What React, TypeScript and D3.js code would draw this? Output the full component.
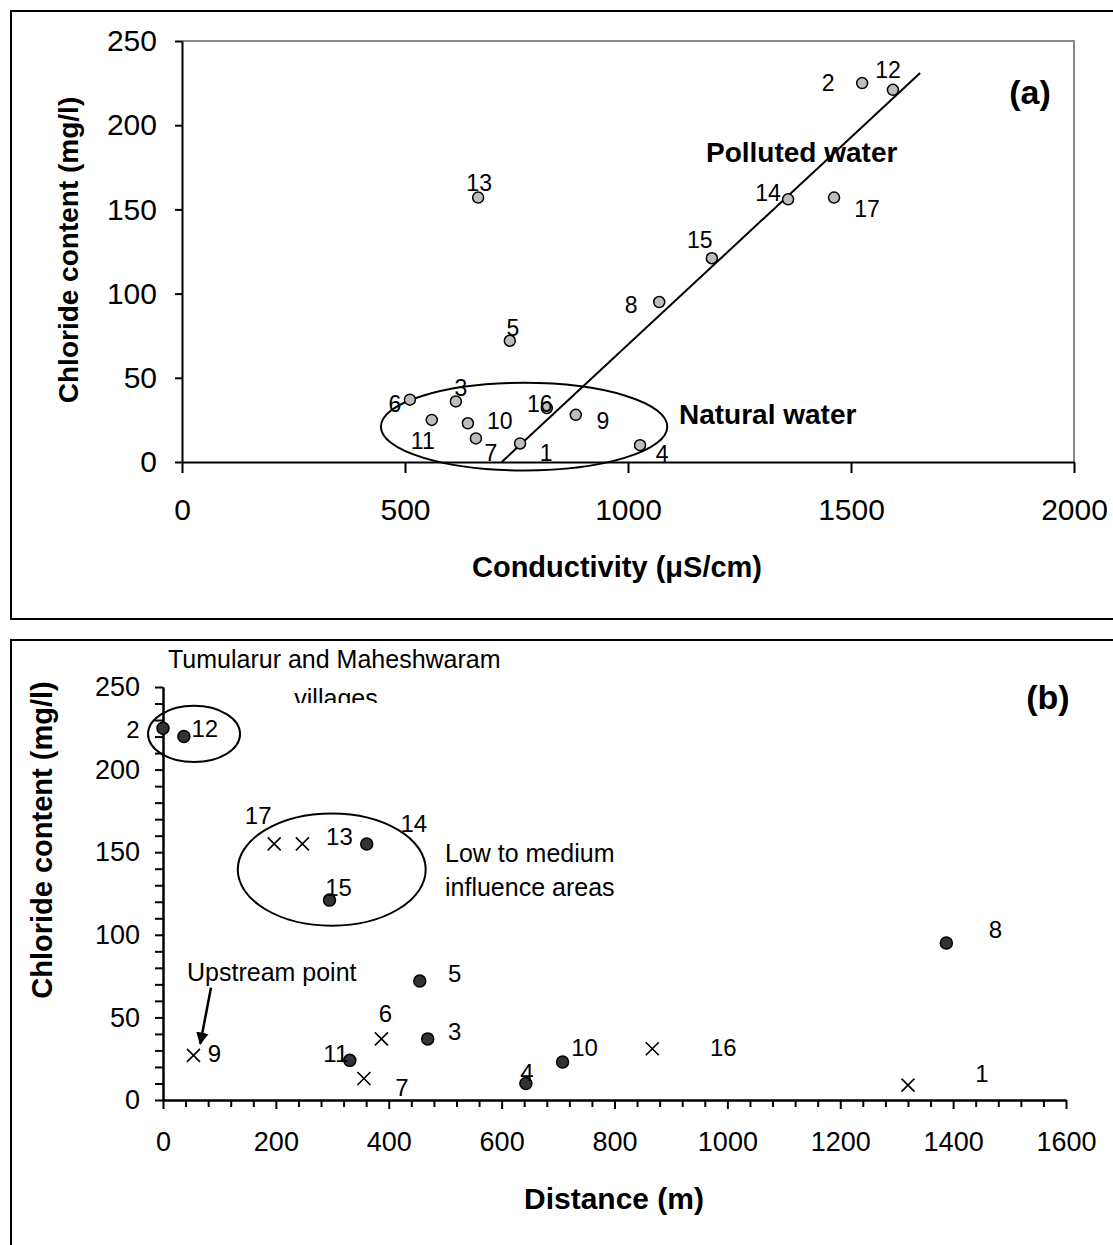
import { useEffect, useRef } from "react";
import * as d3 from "d3";

// sample numbers (same order in every array)
const sampleIds = ["1", "2", "3", "4", "5", "6", "7", "8", "9", "10", "11", "12", "13", "14", "15", "16", "17"];

// panel (a): conductivity vs chloride
const conductivity = [758, 1525, 614, 1027, 735, 511, 659, 1070, 883, 641, 560, 1594, 664, 1359, 1188, 818, 1462];
const chlorideA = [11, 225, 36, 10, 72, 37, 14, 95, 28, 23, 25, 221, 157, 156, 121, 32, 157];
const fitConductivity = [717, 1655];
const fitChloride = [0, 231];

// panel (b): distance vs chloride
const distance = [1320, 0, 469, 643, 455, 387, 356, 1388, 54, 708, 331, 37, 247, 361, 295, 867, 197];
const chlorideB = [9, 225, 37, 10, 72, 37, 13, 95, 27, 23, 24, 220, 155, 155, 121, 31, 155];
const markerB = ["x", "dot", "dot", "dot", "dot", "x", "x", "dot", "x", "dot", "dot", "dot", "x", "dot", "dot", "x", "x"];

const ticksAX = [0, 500, 1000, 1500, 2000];
const ticksAY = [0, 50, 100, 150, 200, 250];
const ticksBX = [0, 200, 400, 600, 800, 1000, 1200, 1400, 1600];
const ticksBY = [0, 50, 100, 150, 200, 250];

// label offsets in px (layout only)
const offA: [number, number][] = [
  [26, 10], [-34, 0], [5, -13], [22, 9], [3, -13], [-15, 4], [15, 15], [-28, 3], [27, 6],
  [32, -2], [-9, 21], [-5, -20], [1, -15], [-20, -6], [-12, -18], [-7, -4], [33, 11],
];
const offB: [number, number][] = [
  [74, -12], [-30, 1], [27, -7], [1, -11], [35, -8], [4, -25], [38, 9], [49, -14], [21, -2],
  [22, -15], [-14, -7], [21, -8], [37, -7], [47, -20], [9, -13], [71, -1], [-16, -28],
];

const FONT = "'Liberation Sans', Arial, Helvetica, sans-serif";

export default function App() {
  const svgRef = useRef<SVGSVGElement | null>(null);

  useEffect(() => {
    if (!svgRef.current) return;
    const svg = d3.select(svgRef.current);
    svg.selectAll("*").remove();
    svg.attr("font-family", FONT);
    const fmt = d3.format("d");

    // ---------- panel (a) ----------
    svg.append("rect").attr("x", 11).attr("y", 11).attr("width", 1130).attr("height", 608)
      .attr("fill", "none").attr("stroke", "#000").attr("stroke-width", 2);

    const xA = d3.scaleLinear().domain([0, 2000]).range([182, 1074]);
    const yA = d3.scaleLinear().domain([0, 250]).range([462, 41]);

    svg.append("path")
      .attr("d", `M${xA(0)},${yA(250)}H${xA(2000)}V${yA(0)}`)
      .attr("fill", "none").attr("stroke", "#888").attr("stroke-width", 2);

    const axAY = svg.append("g").attr("transform", `translate(${xA(0)},0)`)
      .call(d3.axisLeft(yA).tickValues(ticksAY).tickSize(7).tickSizeOuter(0).tickPadding(18).tickFormat((d) => fmt(d as number)));
    const axAX = svg.append("g").attr("transform", `translate(0,${yA(0)})`)
      .call(d3.axisBottom(xA).tickValues(ticksAX).tickSize(11).tickSizeOuter(0).tickPadding(26).tickFormat((d) => fmt(d as number)));
    [axAY, axAX].forEach((g) => {
      g.attr("font-family", FONT).attr("font-size", 30);
      g.selectAll("path, line").attr("stroke", "#000").attr("stroke-width", 2);
      g.selectAll("text").attr("fill", "#000");
    });

    svg.append("text").attr("transform", "translate(68,250) rotate(-90)")
      .attr("text-anchor", "middle").attr("dominant-baseline", "central")
      .attr("font-size", 28).attr("font-weight", "bold").text("Chloride content (mg/l)");
    svg.append("text").attr("x", 617).attr("y", 567)
      .attr("text-anchor", "middle").attr("dominant-baseline", "central")
      .attr("font-size", 29).attr("font-weight", "bold").text("Conductivity (\u03bcS/cm)");

    // natural water ellipse
    svg.append("ellipse")
      .attr("cx", xA(767)).attr("cy", yA(21))
      .attr("rx", xA(767 + 321) - xA(767)).attr("ry", yA(0) - yA(26))
      .attr("fill", "none").attr("stroke", "#000").attr("stroke-width", 2);

    // regression line
    svg.append("path")
      .datum(fitConductivity.map((c, i) => [c, fitChloride[i]] as [number, number]))
      .attr("d", d3.line<[number, number]>().x((d) => xA(d[0])).y((d) => yA(d[1])))
      .attr("stroke", "#000").attr("stroke-width", 2).attr("fill", "none");

    svg.selectAll("circle.a").data(sampleIds).enter().append("circle")
      .attr("class", "a")
      .attr("cx", (_, i) => xA(conductivity[i])).attr("cy", (_, i) => yA(chlorideA[i]))
      .attr("r", 5.5).attr("fill", "#bdbdbd").attr("stroke", "#000").attr("stroke-width", 1.5);

    svg.selectAll("text.la").data(sampleIds).enter().append("text")
      .attr("class", "la")
      .attr("x", (_, i) => xA(conductivity[i]) + offA[i][0])
      .attr("y", (_, i) => yA(chlorideA[i]) + offA[i][1])
      .attr("text-anchor", "middle").attr("dominant-baseline", "central")
      .attr("font-size", 23).text((d) => d);

    svg.append("text").attr("x", 706).attr("y", 162).attr("font-size", 28)
      .attr("font-weight", "bold").text("Polluted water");
    svg.append("text").attr("x", 679).attr("y", 424).attr("font-size", 28)
      .attr("font-weight", "bold").text("Natural water");
    svg.append("text").attr("x", 1030).attr("y", 92).attr("text-anchor", "middle")
      .attr("dominant-baseline", "central").attr("font-size", 34)
      .attr("font-weight", "bold").text("(a)");

    // ---------- panel (b) ----------
    svg.append("rect").attr("x", 11).attr("y", 640).attr("width", 1130).attr("height", 640)
      .attr("fill", "none").attr("stroke", "#000").attr("stroke-width", 2);

    const xB = d3.scaleLinear().domain([0, 1600]).range([163, 1066]);
    const yB = d3.scaleLinear().domain([0, 250]).range([1100, 687]);

    const minorX = d3.range(0, 1601, 40).filter((v) => v % 200 !== 0);
    const minorY = d3.range(0, 251, 10).filter((v) => v % 50 !== 0);

    const gMinX = svg.append("g").attr("transform", `translate(0,${yB(0)})`)
      .call(d3.axisBottom(xB).tickValues(minorX).tickSize(7).tickSizeOuter(0).tickFormat(() => ""));
    const gMinY = svg.append("g").attr("transform", `translate(${xB(0)},0)`)
      .call(d3.axisLeft(yB).tickValues(minorY).tickSize(8).tickSizeOuter(0).tickFormat(() => ""));
    const axBY = svg.append("g").attr("transform", `translate(${xB(0)},0)`)
      .call(d3.axisLeft(yB).tickValues(ticksBY).tickSize(8).tickSizeOuter(0).tickPadding(15).tickFormat((d) => fmt(d as number)));
    const axBX = svg.append("g").attr("transform", `translate(0,${yB(0)})`)
      .call(d3.axisBottom(xB).tickValues(ticksBX).tickSize(9).tickSizeOuter(0).tickPadding(23).tickFormat((d) => fmt(d as number)));
    [gMinX, gMinY, axBY, axBX].forEach((g) => {
      g.attr("font-family", FONT).attr("font-size", 27);
      g.selectAll("path, line").attr("stroke", "#000").attr("stroke-width", 2);
      g.selectAll("text").attr("fill", "#000");
    });

    svg.append("text").attr("transform", "translate(42,840) rotate(-90)")
      .attr("text-anchor", "middle").attr("dominant-baseline", "central")
      .attr("font-size", 29).attr("font-weight", "bold").text("Chloride content (mg/l)");
    svg.append("text").attr("x", 614).attr("y", 1198)
      .attr("text-anchor", "middle").attr("dominant-baseline", "central")
      .attr("font-size", 30).attr("font-weight", "bold").text("Distance (m)");

    // group ellipses
    svg.append("ellipse")
      .attr("cx", xB(55)).attr("cy", yB(221.6))
      .attr("rx", xB(55 + 81.5) - xB(55)).attr("ry", yB(0) - yB(17))
      .attr("fill", "none").attr("stroke", "#000").attr("stroke-width", 2);
    svg.append("ellipse")
      .attr("cx", xB(299)).attr("cy", yB(139.5))
      .attr("rx", xB(299 + 166.5) - xB(299)).attr("ry", yB(0) - yB(34))
      .attr("fill", "none").attr("stroke", "#000").attr("stroke-width", 2);

    // arrow to upstream point
    svg.append("defs").html(
      `<marker id="arr" viewBox="0 0 10 10" refX="9" refY="5" markerWidth="5" markerHeight="6" orient="auto-start-reverse"><path d="M0,0L10,5L0,10z" fill="#000"/></marker>
       <clipPath id="tbClip"><rect x="11" y="640" width="1100" height="63"/></clipPath>`
    );
    svg.append("line")
      .attr("x1", xB(85)).attr("y1", yB(68)).attr("x2", xB(66)).attr("y2", yB(34))
      .attr("stroke", "#000").attr("stroke-width", 2.5).attr("marker-end", "url(#arr)");

    const dots = sampleIds.map((id, i) => ({ id, i })).filter((d) => markerB[d.i] === "dot");
    const crosses = sampleIds.map((id, i) => ({ id, i })).filter((d) => markerB[d.i] === "x");

    svg.selectAll("circle.b").data(dots).enter().append("circle")
      .attr("class", "b")
      .attr("cx", (d) => xB(distance[d.i])).attr("cy", (d) => yB(chlorideB[d.i]))
      .attr("r", 6).attr("fill", "#333").attr("stroke", "#000").attr("stroke-width", 1.5);

    svg.selectAll("path.bx").data(crosses).enter().append("path")
      .attr("class", "bx")
      .attr("d", (d) => {
        const cx = xB(distance[d.i]);
        const cy = yB(chlorideB[d.i]);
        const s = 6.5;
        return `M${cx - s},${cy - s}L${cx + s},${cy + s}M${cx - s},${cy + s}L${cx + s},${cy - s}`;
      })
      .attr("stroke", "#000").attr("stroke-width", 1.6).attr("fill", "none");

    svg.selectAll("text.lb").data(sampleIds).enter().append("text")
      .attr("class", "lb")
      .attr("x", (_, i) => xB(distance[i]) + offB[i][0])
      .attr("y", (_, i) => yB(chlorideB[i]) + offB[i][1])
      .attr("text-anchor", "middle").attr("dominant-baseline", "central")
      .attr("font-size", 24).text((d) => d);

    const tb = svg.append("g").attr("clip-path", "url(#tbClip)");
    tb.append("text").attr("x", 168).attr("y", 668).attr("font-size", 25)
      .text("Tumularur and Maheshwaram");
    tb.append("text").attr("x", 336).attr("y", 707).attr("text-anchor", "middle")
      .attr("font-size", 25).text("villages");

    svg.append("text").attr("x", 445).attr("y", 862).attr("font-size", 25).text("Low to medium");
    svg.append("text").attr("x", 445).attr("y", 896).attr("font-size", 25).text("influence areas");
    svg.append("text").attr("x", 187).attr("y", 981).attr("font-size", 25).text("Upstream point");
    svg.append("text").attr("x", 1048).attr("y", 697).attr("text-anchor", "middle")
      .attr("dominant-baseline", "central").attr("font-size", 34)
      .attr("font-weight", "bold").text("(b)");
  }, []);

  return (
    <div style={{ position: "absolute", left: 0, top: 0, width: 1113, height: 1245, overflow: "hidden", background: "#fff" }}>
      <svg ref={svgRef} width={1113} height={1245} style={{ display: "block" }} />
    </div>
  );
}
